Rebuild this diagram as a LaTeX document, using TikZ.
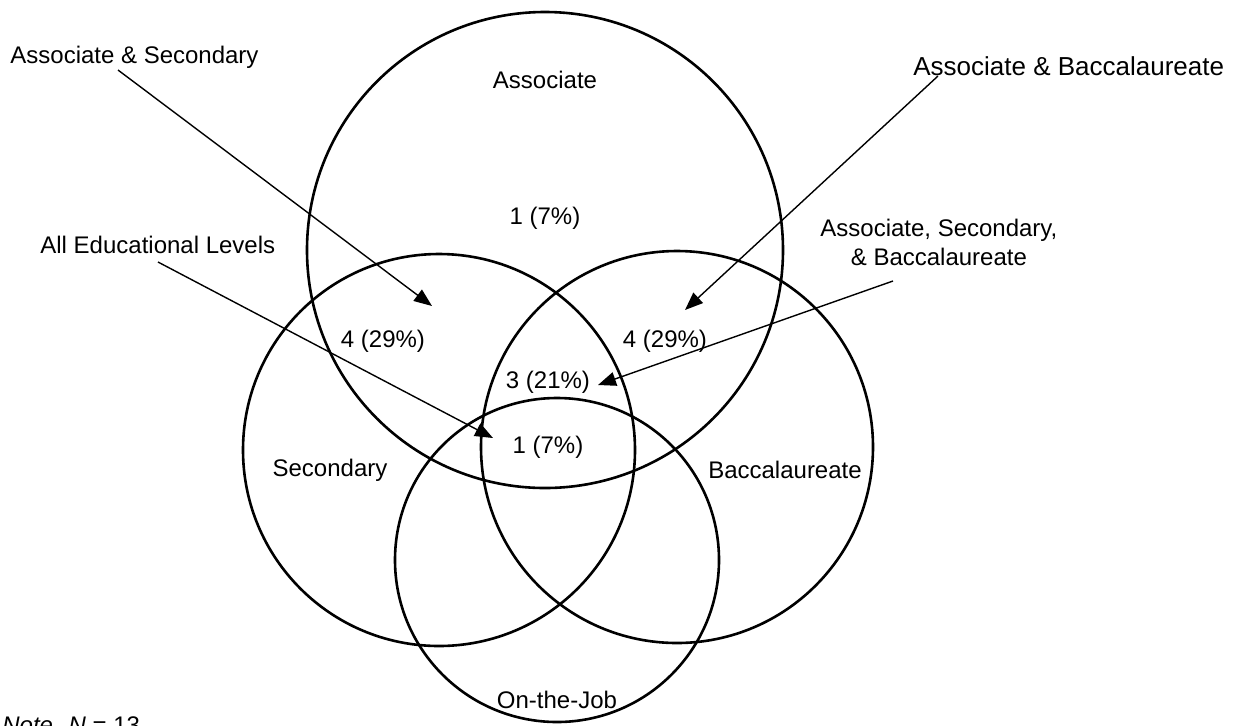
\documentclass[tikz,border=0pt]{standalone}
\usepackage{fontspec}
\setmainfont{Liberation Sans}
\usetikzlibrary{arrows.meta}
\begin{document}
\begin{tikzpicture}[x=0.5pt,y=-0.5pt,
  ring/.style={draw, line width=1.3pt, circle, inner sep=0pt},
  lbl/.style={font=\fontsize{12}{14.5}\selectfont, inner sep=0pt},
  big/.style={font=\fontsize{13}{15}\selectfont, inner sep=0pt},
  pointer/.style={line width=0.7pt, -{Triangle[length=9pt,width=7pt]}}]
\clip (0,0) rectangle (1233,725);
\useasboundingbox (0,0) rectangle (1233,725);
% circles
\node[ring, minimum size=238pt] (assoc) at (545,250) {};
\node[ring, minimum size=196pt] (sec) at (439,450) {};
\node[ring, minimum size=196pt] (bacc) at (677,447) {};
\node[ring, minimum size=162pt] (job) at (557,560) {};
% labels
\node[lbl] (lassoc) at (545,80) {Associate};
\node[lbl] (n1) at (545,218) {1 (7\%)};
\node[lbl] (n4l) at (383,341) {4 (29\%)};
\node[lbl] (n4r) at (665,341) {4 (29\%)};
\node[lbl] (n3) at (548,382) {3 (21\%)};
\node[lbl] (n1c) at (548,447) {1 (7\%)};
\node[lbl] (lsec) at (330,470) {Secondary};
\node[lbl] (lbacc) at (785,470) {Baccalaureate};
\node[lbl] (ljob) at (557,700) {On-the-Job};
\node[lbl, anchor=west] (las) at (10,57) {Associate \& Secondary};
\node[big, anchor=west] (lab) at (913,66) {Associate \& Baccalaureate};
\node[lbl, anchor=west] (lall) at (40,245) {All Educational Levels};
\node[lbl, align=center, anchor=west] (lasb) at (820,242) {Associate, Secondary,\\\& Baccalaureate};
\node[lbl, anchor=north west] (note) at (2,716) {\textit{Note. N} = 13};
% arrow ends
\coordinate (s1) at (118,70);  \coordinate (t1) at (432,306);
\coordinate (s2) at (938,76);  \coordinate (t2) at (685,310);
\coordinate (s3) at (158,262); \coordinate (t3) at (493,438);
\coordinate (s4) at (893,281); \coordinate (t4) at (598,385);
\draw[pointer] (s1) -- (t1);
\draw[pointer] (s2) -- (t2);
\draw[pointer] (s3) -- (t3);
\draw[pointer] (s4) -- (t4);
\end{tikzpicture}
\end{document}
